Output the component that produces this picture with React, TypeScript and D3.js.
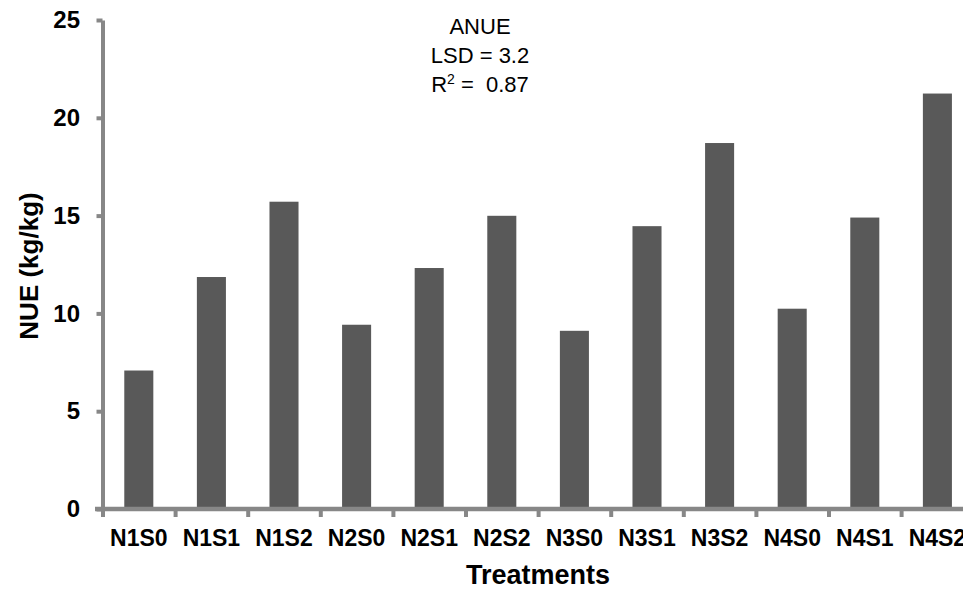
import * as d3 from 'd3';
import React, { useRef, useEffect } from 'react';

const width = 963;
const height = 590;

const treatments = ['N1S0', 'N1S1', 'N1S2', 'N2S0', 'N2S1', 'N2S2', 'N3S0', 'N3S1', 'N3S2', 'N4S0', 'N4S1', 'N4S2'];
const nue = [7.08, 11.86, 15.71, 9.42, 12.32, 14.99, 9.11, 14.46, 18.71, 10.24, 14.9, 21.24];
const yTicks = [0, 5, 10, 15, 20, 25];
const noteLines = ['ANUE', 'LSD = 3.2'];

const font = "'Liberation Sans', Arial, Helvetica, sans-serif";
const axisColor = '#878787';
const barColor = '#595959';

const plot = { left: 102.5, right: 973.7, top: 20, bottom: 509 };

const App = () => {
  const svgRef = useRef<SVGSVGElement>(null);

  useEffect(() => {
    const svg = d3.select(svgRef.current);
    svg.selectAll('*').remove();

    const x = d3.scaleBand<string>()
      .domain(treatments)
      .range([plot.left, plot.right])
      .paddingInner(0.6)
      .paddingOuter(0.3);

    const xIdx = d3.scaleLinear()
      .domain([0, treatments.length])
      .range([plot.left, plot.right]);

    const y = d3.scaleLinear()
      .domain([0, 25])
      .range([plot.bottom, plot.top]);

    // bars
    svg.append('g')
      .selectAll('rect')
      .data(nue)
      .join('rect')
      .attr('x', (_, i) => x(treatments[i])!)
      .attr('y', d => y(d))
      .attr('width', x.bandwidth())
      .attr('height', d => y(0) - y(d))
      .attr('fill', barColor);

    // y axis
    const yAxis = svg.append('g')
      .attr('transform', `translate(${plot.left},0)`)
      .call(d3.axisLeft(y).tickValues(yTicks).tickSizeInner(6).tickSizeOuter(0).tickPadding(16.5));
    yAxis.select('.domain').attr('stroke', axisColor).attr('stroke-width', 4);
    yAxis.selectAll('.tick line').attr('stroke', axisColor).attr('stroke-width', 4);
    yAxis.selectAll('.tick text')
      .attr('fill', '#000')
      .style('font-family', font)
      .style('font-size', '24px')
      .style('font-weight', 'bold');

    // x axis: ticks on category boundaries
    const xAxis = svg.append('g')
      .attr('transform', `translate(0,${y(0)})`)
      .call(d3.axisBottom(xIdx).tickValues(d3.range(0, treatments.length + 1)).tickFormat(() => '').tickSizeInner(8).tickSizeOuter(0));
    xAxis.select('.domain').remove();
    xAxis.selectAll('.tick line').attr('stroke', axisColor).attr('stroke-width', 4);
    svg.append('line')
      .attr('x1', 95)
      .attr('x2', plot.right)
      .attr('y1', y(0))
      .attr('y2', y(0))
      .attr('stroke', axisColor)
      .attr('stroke-width', 4.5);

    svg.append('g')
      .selectAll('text')
      .data(treatments)
      .join('text')
      .attr('x', d => x(d)! + x.bandwidth() / 2)
      .attr('y', 546)
      .attr('text-anchor', 'middle')
      .style('font-family', font)
      .style('font-size', '23px')
      .style('font-weight', 'bold')
      .text(d => d);

    // axis titles
    svg.append('text')
      .attr('x', (plot.left + plot.right) / 2)
      .attr('y', 584)
      .attr('text-anchor', 'middle')
      .style('font-family', font)
      .style('font-size', '27px')
      .style('font-weight', 'bold')
      .text('Treatments');

    svg.append('text')
      .attr('transform', `translate(38,266) rotate(-90)`)
      .attr('text-anchor', 'middle')
      .style('font-family', font)
      .style('font-size', '26px')
      .style('font-weight', 'bold')
      .text('NUE (kg/kg)');

    // annotation
    const note = svg.append('g')
      .style('font-family', font)
      .style('font-size', '22px');
    noteLines.forEach((t, i) => {
      note.append('text')
        .attr('x', 480)
        .attr('y', 34 + i * 29)
        .attr('text-anchor', 'middle')
        .text(t);
    });
    const r2 = note.append('text')
      .attr('x', 480)
      .attr('y', 91.5)
      .attr('text-anchor', 'middle')
      .attr('xml:space', 'preserve')
      .style('white-space', 'pre');
    r2.append('tspan').text('R');
    r2.append('tspan').attr('dy', -8).style('font-size', '14px').text('2');
    r2.append('tspan').attr('dy', 8).text(' =  0.87');
  }, []);

  return (
    <svg
      ref={svgRef}
      width={width}
      height={height}
      style={{ position: 'absolute', left: 0, top: 0, background: '#fff' }}
    />
  );
};

export default App;
